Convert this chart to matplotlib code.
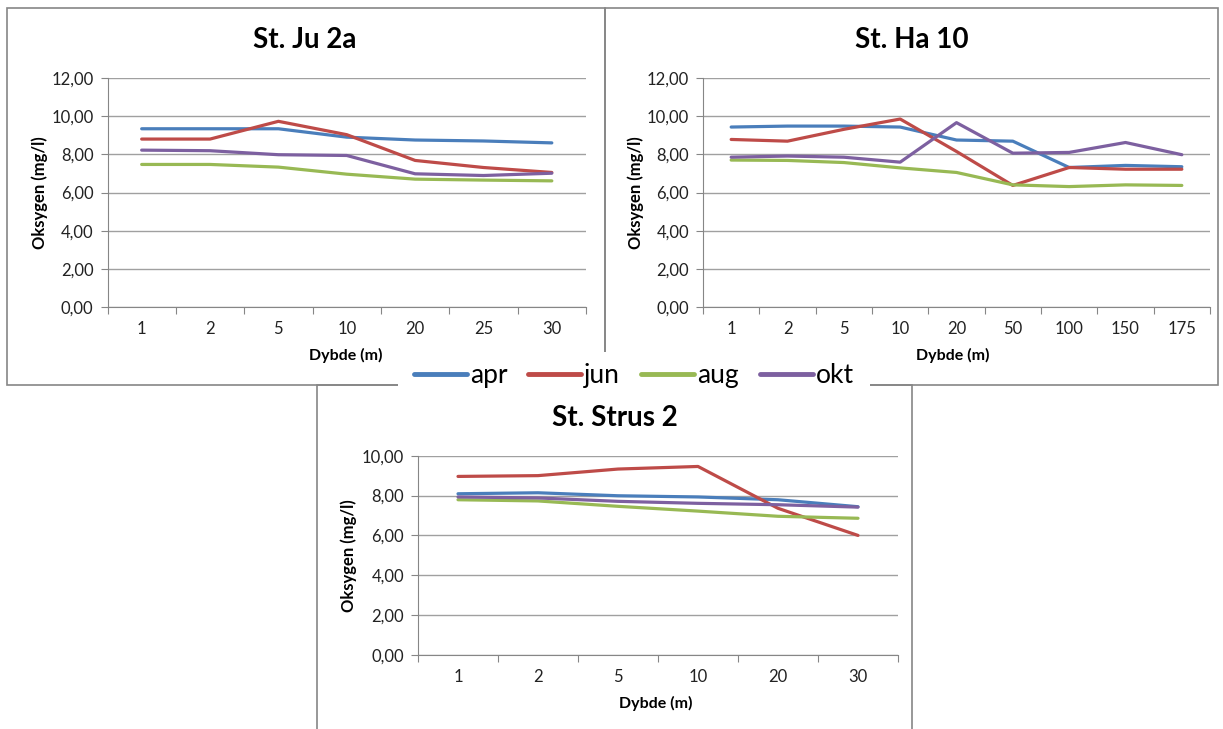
import matplotlib
matplotlib.use("Agg")
import matplotlib.pyplot as plt
from matplotlib.lines import Line2D
from matplotlib.patches import Rectangle
import matplotlib.ticker as ticker

plt.rcParams['font.family'] = ['Lato', 'DejaVu Sans']

months = ['apr', 'jun', 'aug', 'okt']
colors = ['#4A7EBB', '#BE4B48', '#98B954', '#7D60A0']

# St. Ju 2a
ju_depths = ['1', '2', '5', '10', '20', '25', '30']
ju_apr = [9.34, 9.34, 9.34, 8.90, 8.75, 8.70, 8.60]
ju_jun = [8.80, 8.80, 9.73, 9.03, 7.68, 7.31, 7.05]
ju_aug = [7.47, 7.47, 7.33, 6.96, 6.70, 6.65, 6.61]
ju_okt = [8.22, 8.19, 7.98, 7.94, 6.98, 6.89, 7.01]

# St. Ha 10
ha_depths = ['1', '2', '5', '10', '20', '50', '100', '150', '175']
ha_apr = [9.43, 9.48, 9.48, 9.43, 8.75, 8.69, 7.31, 7.42, 7.35]
ha_jun = [8.78, 8.69, 9.31, 9.85, 8.15, 6.37, 7.31, 7.22, 7.22]
ha_aug = [7.70, 7.68, 7.57, 7.29, 7.05, 6.40, 6.31, 6.40, 6.37]
ha_okt = [7.85, 7.91, 7.85, 7.59, 9.66, 8.06, 8.10, 8.62, 7.98]

# St. Strus 2
st_depths = ['1', '2', '5', '10', '20', '30']
st_apr = [8.09, 8.14, 7.99, 7.93, 7.79, 7.44]
st_jun = [8.96, 9.00, 9.33, 9.46, 7.36, 6.00]
st_aug = [7.79, 7.73, 7.46, 7.22, 6.96, 6.86]
st_okt = [7.93, 7.88, 7.71, 7.61, 7.54, 7.42]

W, H = 1223, 729
fig = plt.figure(figsize=(W / 100, H / 100), dpi=100)


def fx(px):
    return px / W


def fy(py):
    return 1 - py / H


def box(x0, y0, x1, y1):
    fig.add_artist(Rectangle((fx(x0), fy(y1)), fx(x1) - fx(x0), fy(y0) - fy(y1),
                             transform=fig.transFigure, fill=False,
                             edgecolor='#868686', linewidth=1.2, zorder=0))


def chart(rect, title, title_xy, ylab_xy, xlab_xy, depths, series, ymax):
    x0, y0, x1, y1 = rect
    ax = fig.add_axes([fx(x0), fy(y1), fx(x1) - fx(x0), fy(y0) - fy(y1)])
    n = len(depths)
    xs = [i + 0.5 for i in range(n)]
    for vals, c in zip(series, colors):
        ax.plot(xs, vals, color=c, linewidth=2.3, solid_capstyle='round', zorder=3)
    ax.set_xlim(0, n)
    ax.set_ylim(0, ymax)
    ax.set_yticks(range(0, ymax + 1, 2))
    ax.yaxis.set_major_formatter(ticker.FuncFormatter(lambda v, p: f'{v:.2f}'.replace('.', ',')))
    ax.set_xticks(range(n + 1))
    ax.set_xticklabels([])
    ax.set_xticks(xs, minor=True)
    ax.set_xticklabels(depths, minor=True)
    ax.tick_params(axis='x', which='major', length=5, color='#868686', direction='out')
    ax.tick_params(axis='x', which='minor', length=0, pad=10, labelsize=12, labelcolor='#222222')
    ax.tick_params(axis='y', length=5, color='#868686', pad=5, labelsize=12, labelcolor='#222222')
    ax.grid(axis='y', color='#a0a0a0', linewidth=1.0, zorder=0)
    ax.set_axisbelow(True)
    for s in ['top', 'right']:
        ax.spines[s].set_visible(False)
    for s in ['left', 'bottom']:
        ax.spines[s].set_color('#868686')
    fig.text(fx(title_xy[0]), fy(title_xy[1]), title, ha='center', va='center',
             fontsize=20, fontweight='bold')
    fig.text(fx(ylab_xy[0]), fy(ylab_xy[1]), 'Oksygen (mg/l)', ha='center', va='center',
             rotation=90, fontsize=12, fontweight='bold')
    fig.text(fx(xlab_xy[0]), fy(xlab_xy[1]), 'Dybde (m)', ha='center', va='center',
             fontsize=11.5, fontweight='bold')
    return ax


box(7, 8, 605, 385)
box(605, 8, 1218, 385)
box(317, 385, 912, 735)

chart((107.5, 78, 586, 307), 'St. Ju 2a', (305, 40), (40, 193), (346, 355),
      ju_depths, [ju_apr, ju_jun, ju_aug, ju_okt], 12)
chart((703, 78, 1210, 307), 'St. Ha 10', (912, 40), (636, 193), (953, 355),
      ha_depths, [ha_apr, ha_jun, ha_aug, ha_okt], 12)
chart((418, 455.7, 898, 655), 'St. Strus 2', (615, 418), (349, 556), (656, 703),
      st_depths, [st_apr, st_jun, st_aug, st_okt], 10)

# legend on white patch covering the borders
fig.add_artist(Rectangle((fx(398), fy(395)), fx(870) - fx(398), fy(352) - fy(395),
                         transform=fig.transFigure, facecolor='white', edgecolor='none', zorder=5))
handles = [Line2D([], [], color=c, linewidth=3.5, solid_capstyle='round') for c in colors]
leg = fig.legend(handles, months, loc='center', bbox_to_anchor=(fx(634), fy(376)), ncol=4,
                 frameon=False, fontsize=19, handlelength=2.0, handletextpad=0.12,
                 columnspacing=0.8)
leg.set_zorder(6)

fig.savefig('out.png', dpi=100)
